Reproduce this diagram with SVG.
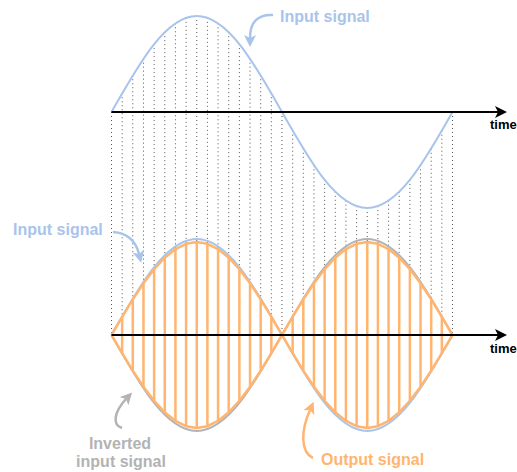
<svg xmlns="http://www.w3.org/2000/svg" width="517" height="472" viewBox="0 0 517 472">
<style>
.lbl{font-family:"Liberation Sans",Arial,sans-serif;font-weight:bold;font-size:16px}
.time{font-family:"Liberation Sans",Arial,sans-serif;font-weight:bold;font-size:13px;fill:#000}
.dots{fill:none;stroke:#555;stroke-width:1;stroke-dasharray:1 3}
.blue{fill:none;stroke:#A9C4EB;stroke-width:2}
.gray{fill:none;stroke:#B3B3B3;stroke-width:2}
.orange{fill:none;stroke:#FFB570;stroke-width:2.5;stroke-linejoin:round}
.axis{fill:none;stroke:#000;stroke-width:2}
</style>
<defs>
<marker id="ahBlack" markerUnits="userSpaceOnUse" markerWidth="12" markerHeight="12" refX="3" refY="6" orient="auto"><path d="M0,0 L12,6 L0,12 L3,6 Z" fill="#000"/></marker>
<marker id="ahBlue" markerUnits="userSpaceOnUse" markerWidth="12" markerHeight="12" refX="3" refY="6" orient="auto"><path d="M0,0 L12,6 L0,12 L3,6 Z" fill="#A9C4EB"/></marker>
<marker id="ahGray" markerUnits="userSpaceOnUse" markerWidth="12" markerHeight="12" refX="3" refY="6" orient="auto"><path d="M0,0 L12,6 L0,12 L3,6 Z" fill="#B3B3B3"/></marker>
<marker id="ahOrange" markerUnits="userSpaceOnUse" markerWidth="12" markerHeight="12" refX="3" refY="6" orient="auto"><path d="M0,0 L12,6 L0,12 L3,6 Z" fill="#FFB570"/></marker>
</defs>

<g id="sample-lines">
<path class="dots" d="M111.5,112V335 M122.16,93.27V335 M132.81,75.26V335 M143.47,58.67V335 M154.13,44.12V335 M164.78,32.18V335 M175.44,23.31V335 M186.09,17.84V335 M196.75,16V335 M207.41,17.84V335 M218.06,23.31V335 M228.72,32.18V335 M239.38,44.12V335 M250.03,58.67V335 M260.69,75.26V335 M271.34,93.27V335 M282,112V335 M292.66,130.73V335 M303.31,148.74V335 M313.97,165.33V335 M324.63,179.88V335 M335.28,191.82V335 M345.94,200.69V335 M356.59,206.16V335 M367.25,208V335 M377.91,206.16V335 M388.56,200.69V335 M399.22,191.82V335 M409.88,179.88V335 M420.53,165.33V335 M431.19,148.74V335 M441.84,130.73V335 M452.5,112V335"/>
</g>

<g id="top-input-signal">
<path class="blue" d="M111.5,112 C139.3,62.82 165.9,16 196.75,16 C227.6,16 254.2,62.82 282,112 C309.8,161.18 336.4,208 367.25,208 C398.1,208 424.7,161.18 452.5,112"/>
</g>

<g id="bottom-input-signal">
<path class="blue" d="M111.5,335 C139.3,285.82 165.9,239 196.75,239 C227.6,239 254.2,285.82 282,335 C309.8,384.18 336.4,431 367.25,431 C398.1,431 424.7,384.18 452.5,335"/>
</g>

<g id="inverted-input-signal">
<path class="gray" d="M111.5,335 C139.3,384.18 165.9,431 196.75,431 C227.6,431 254.2,384.18 282,335 C309.8,285.82 336.4,239 367.25,239 C398.1,239 424.7,285.82 452.5,335"/>
</g>

<g id="output-signal">
<path class="orange" d="M111.5,335 L122.16,316.86 L132.81,299.41 L143.47,283.34 L154.13,269.24 L164.78,257.67 L175.44,249.08 L186.09,243.78 L196.75,242 L207.41,243.78 L218.06,249.08 L228.72,257.67 L239.38,269.24 L250.03,283.34 L260.69,299.41 L271.34,316.86 L282,335 L292.66,316.86 L303.31,299.41 L313.97,283.34 L324.63,269.24 L335.28,257.67 L345.94,249.08 L356.59,243.78 L367.25,242 L377.91,243.78 L388.56,249.08 L399.22,257.67 L409.88,269.24 L420.53,283.34 L431.19,299.41 L441.84,316.86 L452.5,335"/>
<path class="orange" d="M111.5,335 L122.16,353.14 L132.81,370.59 L143.47,386.66 L154.13,400.76 L164.78,412.33 L175.44,420.92 L186.09,426.22 L196.75,428 L207.41,426.22 L218.06,420.92 L228.72,412.33 L239.38,400.76 L250.03,386.66 L260.69,370.59 L271.34,353.14 L282,335 L292.66,353.14 L303.31,370.59 L313.97,386.66 L324.63,400.76 L335.28,412.33 L345.94,420.92 L356.59,426.22 L367.25,428 L377.91,426.22 L388.56,420.92 L399.22,412.33 L409.88,400.76 L420.53,386.66 L431.19,370.59 L441.84,353.14 L452.5,335"/>
<path class="orange" d="M122.16,316.86V353.14 M132.81,299.41V370.59 M143.47,283.34V386.66 M154.13,269.24V400.76 M164.78,257.67V412.33 M175.44,249.08V420.92 M186.09,243.78V426.22 M196.75,242V428 M207.41,243.78V426.22 M218.06,249.08V420.92 M228.72,257.67V412.33 M239.38,269.24V400.76 M250.03,283.34V386.66 M260.69,299.41V370.59 M271.34,316.86V353.14 M292.66,316.86V353.14 M303.31,299.41V370.59 M313.97,283.34V386.66 M324.63,269.24V400.76 M335.28,257.67V412.33 M345.94,249.08V420.92 M356.59,243.78V426.22 M367.25,242V428 M377.91,243.78V426.22 M388.56,249.08V420.92 M399.22,257.67V412.33 M409.88,269.24V400.76 M420.53,283.34V386.66 M431.19,299.41V370.59 M441.84,316.86V353.14"/>
</g>

<g id="top-axis">
<path class="axis" d="M111.5,112 H498" marker-end="url(#ahBlack)"/>
<text class="time" x="490" y="129">time</text>
</g>

<g id="bottom-axis">
<path class="axis" d="M111.5,335 H498" marker-end="url(#ahBlack)"/>
<text class="time" x="490" y="353">time</text>
</g>

<g id="label-input-top">
<text class="lbl" x="280" y="22" fill="#A9C4EB">Input signal</text>
</g>
<g id="label-input-left">
<text class="lbl" x="13" y="235" fill="#A9C4EB">Input signal</text>
</g>
<g id="label-inverted">
<text class="lbl" x="120" y="449" text-anchor="middle" fill="#B3B3B3">Inverted</text>
<text class="lbl" x="121" y="467" text-anchor="middle" fill="#B3B3B3">input signal</text>
</g>
<g id="label-output">
<text class="lbl" x="321" y="465" fill="#FFB570">Output signal</text>
</g>

<g id="connectors">
<path d="M273,15 C258,14 250,22 250,38" fill="none" stroke="#A9C4EB" stroke-width="2.5" marker-end="url(#ahBlue)"/>
<path d="M113,232 C128,233 136,242 139,254" fill="none" stroke="#A9C4EB" stroke-width="2.5" marker-end="url(#ahBlue)"/>
<path d="M122,428 C112,425 114,412 126,399" fill="none" stroke="#B3B3B3" stroke-width="2.5" marker-end="url(#ahGray)"/>
<path d="M313,458 C300,452 301,430 310,410" fill="none" stroke="#FFB570" stroke-width="2.5" marker-end="url(#ahOrange)"/>
</g>
</svg>
